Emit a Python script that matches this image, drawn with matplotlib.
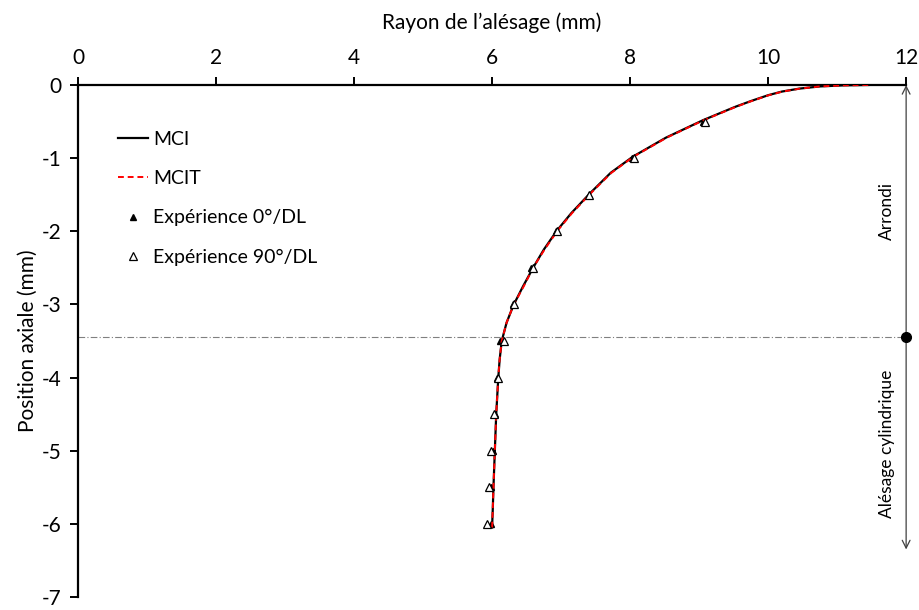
import numpy as np
import matplotlib
matplotlib.use("Agg")
import matplotlib.pyplot as plt

plt.rcParams['font.family'] = ['Lato', 'DejaVu Sans']
plt.rcParams['axes.unicode_minus'] = False

# courbes simulees (rayon en mm, position axiale en mm)
z_mci = [0.0, -0.005, -0.02, -0.05, -0.09, -0.14, -0.22, -0.30, -0.48, -0.72, -0.98, -1.20,
         -1.48, -1.75, -1.99, -2.25, -2.49, -2.75, -3.01, -3.25, -3.50, -3.75, -4.00, -4.50,
         -5.00, -5.50, -5.80, -6.05]
r_mci = [11.45, 11.1, 10.75, 10.45, 10.2, 10.0, 9.75, 9.52, 9.06, 8.52, 8.04, 7.72,
         7.42, 7.15, 6.94, 6.75, 6.60, 6.45, 6.31, 6.21, 6.14, 6.11, 6.09, 6.06,
         6.04, 6.02, 6.01, 6.00]
z_mcit = z_mci
r_mcit = [11.45, 11.1, 10.75, 10.46, 10.21, 10.01, 9.76, 9.53, 9.07, 8.53, 8.05, 7.73,
          7.43, 7.16, 6.95, 6.76, 6.60, 6.46, 6.31, 6.21, 6.14, 6.11, 6.09, 6.06,
          6.04, 6.02, 6.01, 6.00]

# essais
z_exp = [-0.5, -1.0, -1.5, -2.0, -2.5, -3.0, -3.5, -4.0, -4.5, -5.0, -5.5, -6.0]
r_exp0 = [9.05, 8.03, 7.40, 6.93, 6.57, 6.30, 6.11, 6.07, 6.04, 6.01, 5.99, 5.98]
r_exp90 = [9.09, 8.06, 7.41, 6.94, 6.60, 6.32, 6.17, 6.09, 6.03, 5.99, 5.95, 5.93]

z_transition = -3.45
z_fin = -6.35

fig = plt.figure(figsize=(9.19, 6.10), dpi=100)
ax = fig.add_axes([0.0849, 0.0213, 0.9011, 0.8394])

ax.plot(r_exp0, z_exp, ls='none', marker='^', ms=5, mfc='black', mec='black',
        label='Expérience 0°/DL', zorder=2)
ax.plot(r_mci, z_mci, color='black', lw=1.6, label='MCI', zorder=3)
ax.plot(r_mcit, z_mcit, color='red', lw=1.4, ls=(0, (3, 2)), label='MCIT', zorder=4)
ax.plot(r_exp90, z_exp, ls='none', marker='^', ms=5.5, mfc='white', mec='black',
        mew=0.9, label='Expérience 90°/DL', zorder=5)

ax.axhline(z_transition, color='#808080', lw=0.8, ls=(0, (6, 2, 1, 2)), zorder=1)

ax.set_xlim(0, 12)
ax.set_ylim(-7, 0)
ax.set_xticks(np.arange(0, 13, 2))
ax.set_yticks(np.arange(-7, 1, 1))
ax.xaxis.tick_top()
ax.xaxis.set_label_position('top')
ax.spines['bottom'].set_visible(False)
ax.spines['right'].set_visible(False)
ax.spines['top'].set_linewidth(1.6)
ax.spines['left'].set_linewidth(1.6)
ax.tick_params(axis='both', direction='out', length=6, width=1.4, labelsize=15, pad=6)
ax.set_xlabel("Rayon de l\u2019alésage (mm)", fontsize=15, labelpad=14)
ax.set_ylabel('Position axiale (mm)', fontsize=15, labelpad=3)

# fleches a droite
arr = dict(arrowstyle='->', color='#404040', lw=0.9, shrinkA=0, shrinkB=0, mutation_scale=14)
ax.annotate('', xy=(12, 0), xytext=(12, z_transition), arrowprops=arr, annotation_clip=False)
ax.annotate('', xy=(12, z_fin), xytext=(12, z_transition), arrowprops=arr, annotation_clip=False)
ax.plot([12], [z_transition], 'o', color='black', ms=7, clip_on=False, zorder=6)
ax.text(11.72, z_transition / 2, 'Arrondi', rotation=90, ha='center', va='center', fontsize=12.5)
ax.text(11.72, (z_transition + z_fin) / 2, 'Alésage cylindrique', rotation=90,
        ha='center', va='center', fontsize=12.5)

h, l = ax.get_legend_handles_labels()
order = [1, 2, 0, 3]
ax.legend([h[i] for i in order], [l[i] for i in order], loc='upper left',
          bbox_to_anchor=(0.027, 0.945), frameon=False, fontsize=14,
          handlelength=1.55, handletextpad=0.25, labelspacing=1.15)

fig.savefig('out.png', dpi=100)
